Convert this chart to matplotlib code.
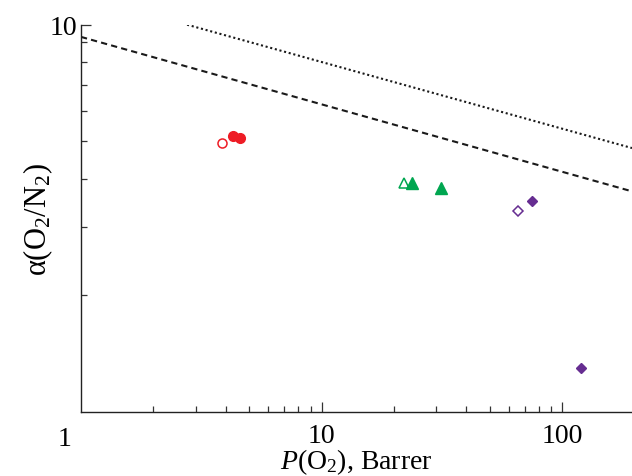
import matplotlib
matplotlib.use('Agg')
from matplotlib import pyplot as plt
from matplotlib.ticker import FixedLocator, NullFormatter, LogLocator

plt.rcParams['font.family'] = 'Liberation Serif'
plt.rcParams['mathtext.fontset'] = 'custom'
plt.rcParams['mathtext.rm'] = 'Liberation Serif'
plt.rcParams['mathtext.it'] = 'Liberation Serif:italic'

# datos
P_rojo_abierto = [3.85]
a_rojo_abierto = [4.95]
P_rojo = [4.27, 4.57]
a_rojo = [5.17, 5.11]

P_verde_abierto = [22.0]
a_verde_abierto = [3.90]
P_verde = [23.8, 31.3]
a_verde = [3.90, 3.78]

P_morado_abierto = [65.8]
a_morado_abierto = [3.30]
P_morado = [75.2, 120.0]
a_morado = [3.51, 1.30]

# limites superiores (Robeson)
P_lim1991 = [1.0, 195.0]
a_lim1991 = [9.30, 3.71]
P_lim2008 = [2.76, 195.0]
a_lim2008 = [10.0, 4.80]

rojo = '#ee1c25'
verde = '#00a650'
morado = '#662d91'

fig = plt.figure(figsize=(6.32, 4.77), dpi=100)
ax = fig.add_axes([81/632, (477-412.7)/477, (632-81)/632, (412.7-25.7)/477])

ax.plot(P_lim1991, a_lim1991, color='#1a1a1a', lw=1.5, ls=(0, (3, 2)))
ax.plot(P_lim2008, a_lim2008, color='#1a1a1a', lw=1.5, ls=(0, (1, 1.3)))

ax.plot(P_rojo_abierto, a_rojo_abierto, 'o', ms=6.5, mfc='white', mec=rojo, mew=1.1, ls='none')
ax.plot(P_rojo, a_rojo, 'o', ms=7, color=rojo, ls='none')
ax.plot(P_verde_abierto, a_verde_abierto, '^', ms=7.5, mfc='white', mec=verde, mew=1.1, ls='none')
ax.plot(P_verde, a_verde, '^', ms=8, color=verde, ls='none')
ax.plot(P_morado_abierto, a_morado_abierto, 'D', ms=5, mfc='white', mec=morado, mew=1.1, ls='none')
ax.plot(P_morado, a_morado, 'D', ms=5.5, color=morado, ls='none')

ax.set_xscale('log')
ax.set_yscale('log')
ax.set_xlim(1, 195)
ax.set_ylim(1, 10)

ax.spines['top'].set_visible(False)
ax.spines['right'].set_visible(False)
for s in ['left', 'bottom']:
    ax.spines[s].set_linewidth(1.0)
    ax.spines[s].set_color('#222222')

ax.xaxis.set_major_locator(FixedLocator([10, 100]))
ax.xaxis.set_minor_locator(LogLocator(base=10, subs=range(2, 10)))
ax.xaxis.set_minor_formatter(NullFormatter())
ax.set_xticklabels(['10', '100'])
ax.yaxis.set_major_locator(FixedLocator([10]))
ax.yaxis.set_minor_locator(FixedLocator([2, 3, 4, 5, 6, 7, 8, 9]))
ax.yaxis.set_minor_formatter(NullFormatter())
ax.set_yticklabels(['10'])

ax.tick_params(which='both', direction='in', width=0.9, color='#333333', labelsize=20)
ax.tick_params(which='major', length=7)
ax.tick_params(axis='x', which='major', pad=8)
ax.tick_params(axis='y', which='major', pad=3)
ax.tick_params(which='minor', length=4.5)

ax.text(-0.03, -0.07, '1', transform=ax.transAxes, fontsize=20, ha='center', va='center')

ax.set_xlabel('$P$(O$_2$), Barrer', fontsize=20, labelpad=-1)
ax.set_ylabel('α(O$_2$/N$_2$)', fontsize=22, labelpad=-4)

fig.savefig('out.png', dpi=100)
